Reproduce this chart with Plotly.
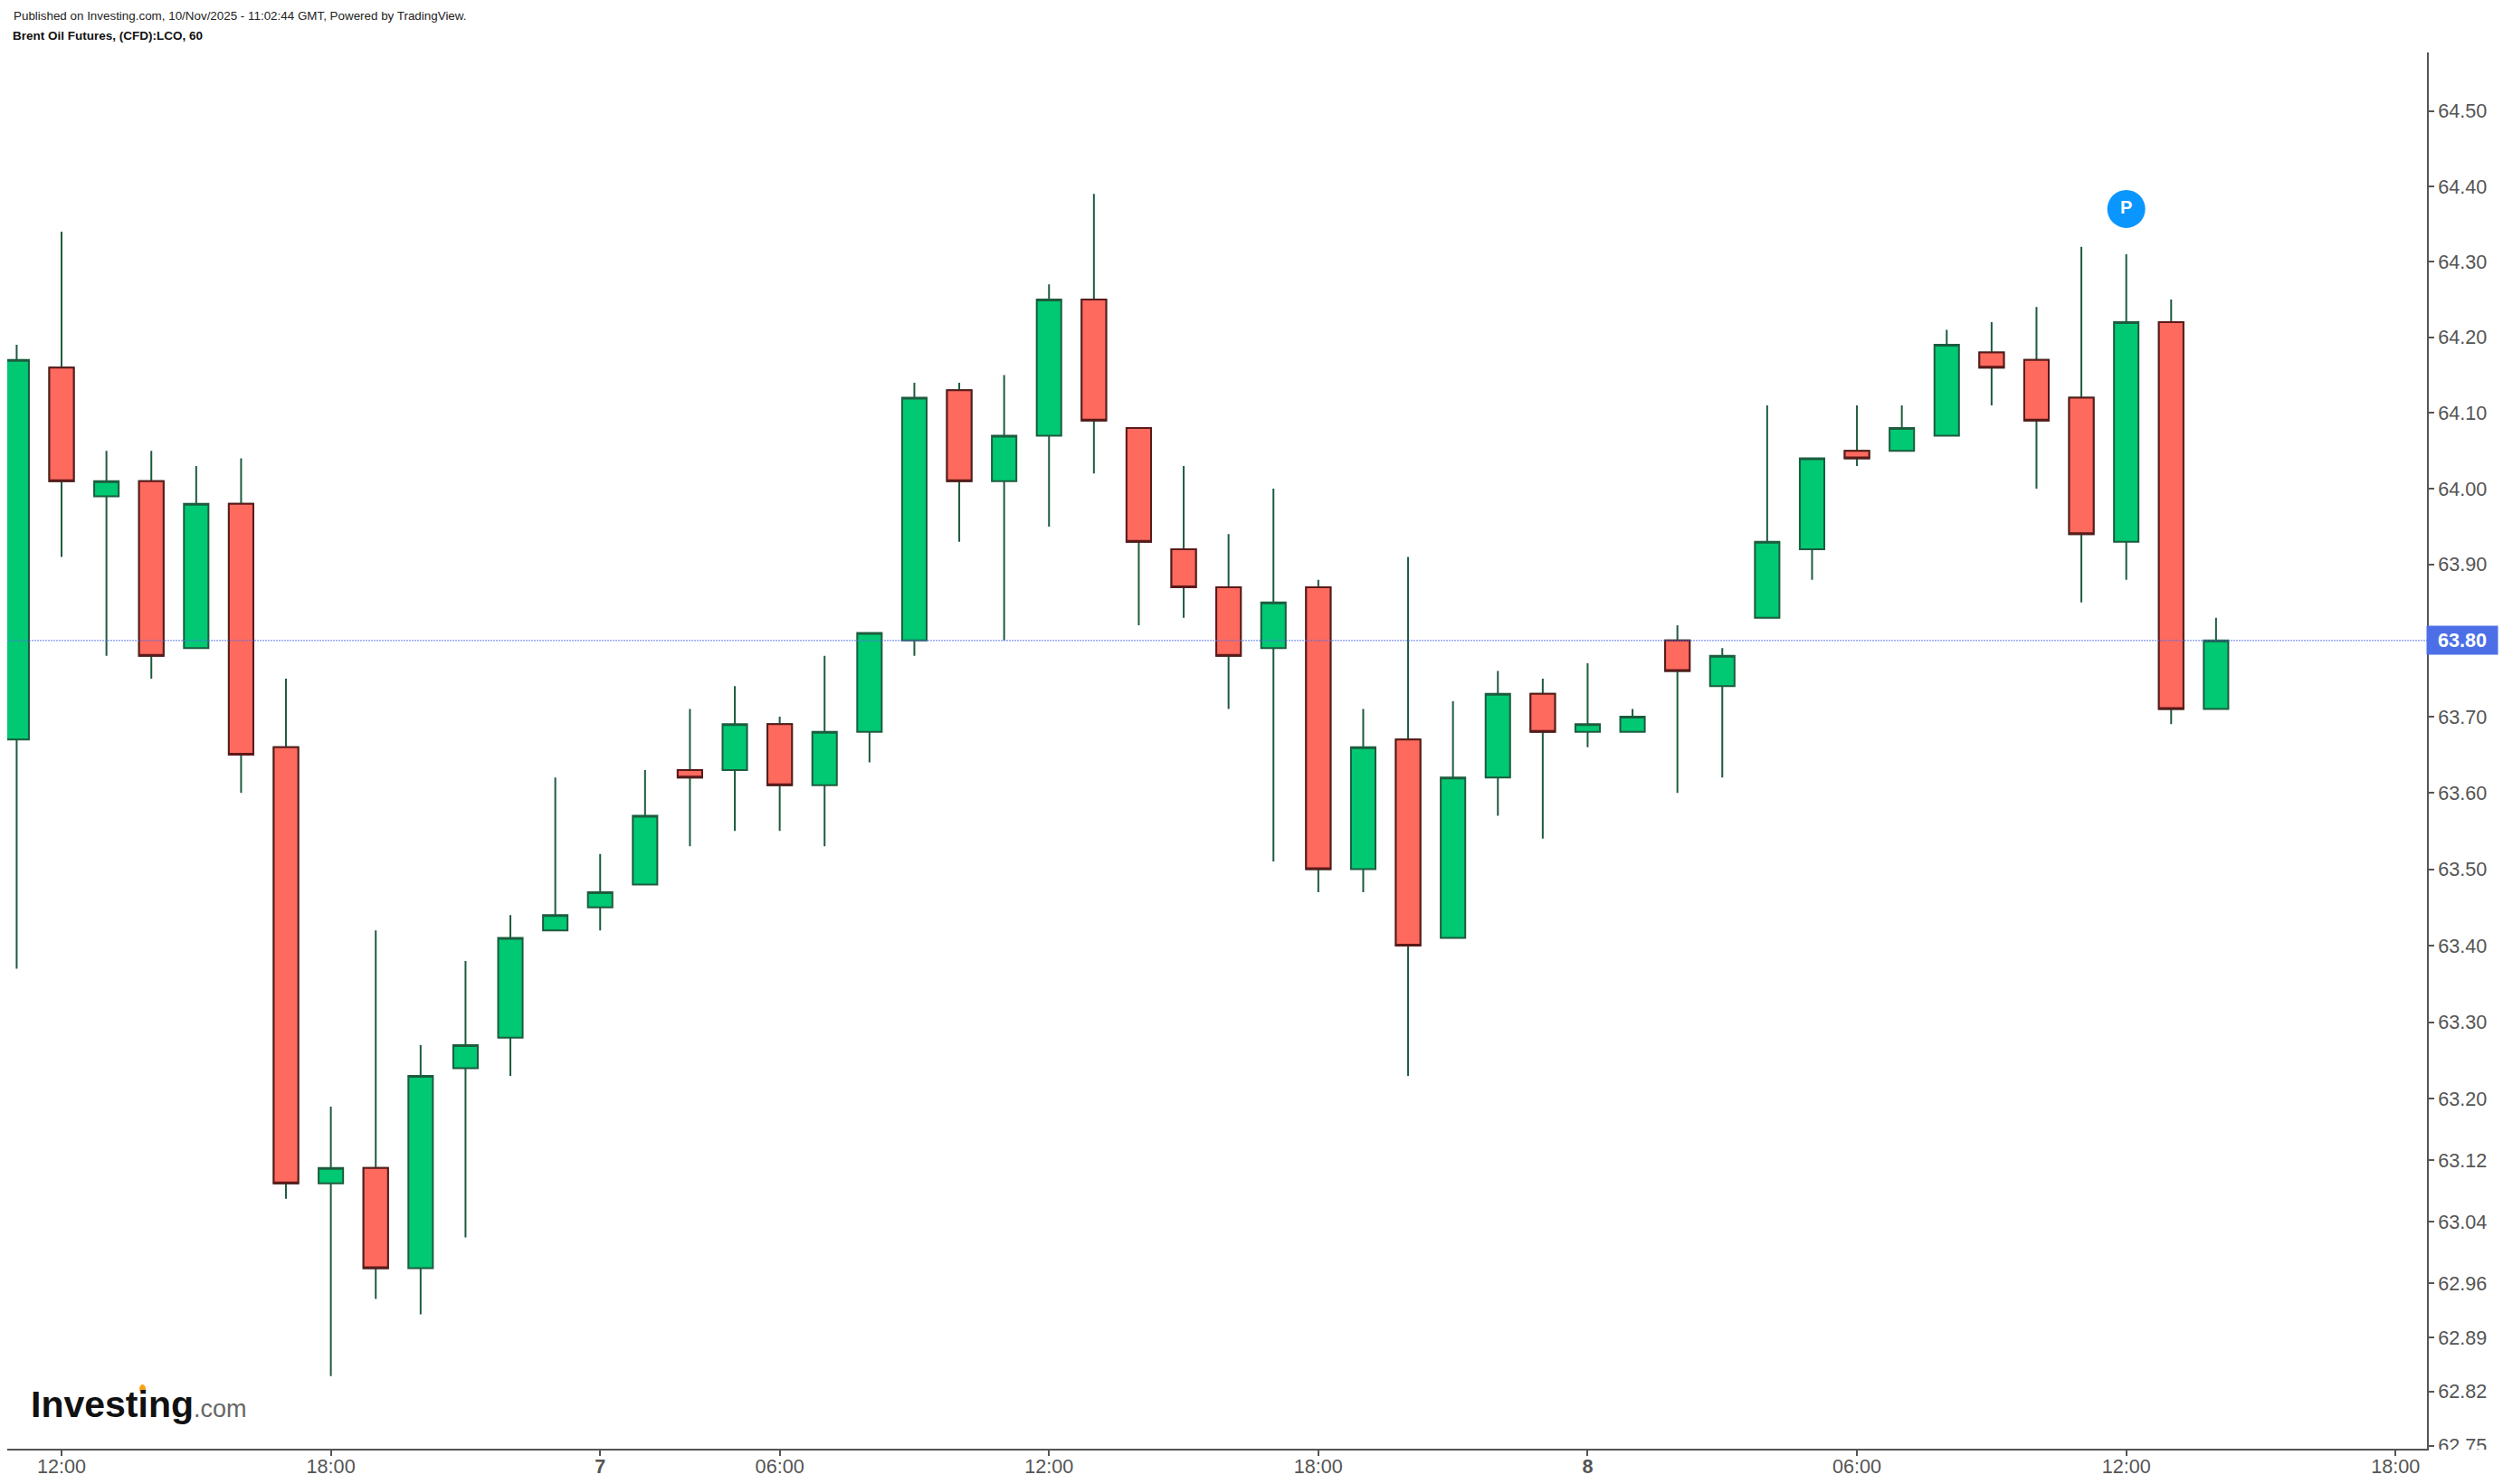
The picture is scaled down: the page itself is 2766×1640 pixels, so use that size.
import math
import plotly.graph_objects as go

bar_index = list(range(50))
opens = [63.67,64.16,63.99,64.01,63.79,63.98,63.66,63.09,63.11,62.98,63.24,63.28,63.42,63.45,63.48,63.63,63.63,63.69,63.61,63.68,
         63.80,64.13,64.01,64.07,64.25,64.08,63.92,63.87,63.79,63.87,63.50,63.67,63.41,63.62,63.73,63.68,63.68,63.80,63.74,63.83,
         63.92,64.05,64.05,64.07,64.18,64.17,64.12,63.93,64.22,63.71]
highs = [64.19,64.34,64.05,64.05,64.03,64.04,63.75,63.19,63.42,63.27,63.38,63.44,63.62,63.52,63.63,63.71,63.74,63.70,63.78,63.81,
         64.14,64.14,64.15,64.27,64.39,64.08,64.03,63.94,64.00,63.88,63.71,63.91,63.72,63.76,63.75,63.77,63.71,63.82,63.79,64.11,
         64.04,64.11,64.11,64.21,64.22,64.24,64.32,64.31,64.25,63.83]
lows = [63.37,63.91,63.78,63.75,63.79,63.60,63.07,62.84,62.94,62.92,63.02,63.23,63.42,63.42,63.48,63.53,63.55,63.55,63.53,63.64,
        63.78,63.93,63.80,63.95,64.02,63.82,63.83,63.71,63.51,63.47,63.47,63.23,63.41,63.57,63.54,63.66,63.68,63.60,63.62,63.83,
        63.88,64.03,64.05,64.07,64.11,64.00,63.85,63.88,63.69,63.71]
closes = [64.17,64.01,64.01,63.78,63.98,63.65,63.09,63.11,62.98,63.23,63.27,63.41,63.44,63.47,63.57,63.62,63.69,63.61,63.68,63.81,
          64.12,64.01,64.07,64.25,64.09,63.93,63.87,63.78,63.85,63.50,63.66,63.40,63.62,63.73,63.68,63.69,63.70,63.76,63.78,63.93,
          64.04,64.04,64.08,64.19,64.16,64.09,63.94,64.22,63.71,63.80]

price_ticks = [64.50,64.40,64.30,64.20,64.10,64.00,63.90,63.80,63.70,63.60,63.50,63.40,63.30,63.20,63.12,63.04,62.96,62.89,62.82,62.75]
time_tick_index = [1,7,13,17,23,29,35,41,47,53]
time_tick_labels = ["12:00","18:00","<b>7</b>","06:00","12:00","18:00","<b>8</b>","06:00","12:00","18:00"]
last_price = 63.80
marker_bar = 47
marker_price = 64.37

W, H = 2766, 1640
L, R, T, B = 8, 2682, 58, 1601
def px(x): return (x - L) / (R - L)
def py(y): return (B - y) / (B - T)

GREEN, RED = "#00C873", "#FF6A5E"
DGREEN, DRED = "#1D5C3E", "#5A1A1A"
AXIS = "#555555"
FONT = "Liberation Sans, Arial, sans-serif"
X0, X1 = -0.21, 53.70

fig = go.Figure()
fig.add_trace(go.Candlestick(
    x=bar_index, open=opens, high=highs, low=lows, close=closes, whiskerwidth=0,
    increasing=dict(fillcolor=GREEN, line=dict(color=DGREEN, width=2)),
    decreasing=dict(fillcolor=RED, line=dict(color=DGREEN, width=2)),
    hoverinfo="skip", showlegend=False))

red = [i for i in bar_index if closes[i] < opens[i]]
fig.add_trace(go.Candlestick(
    x=[bar_index[i] for i in red], open=[opens[i] for i in red], close=[closes[i] for i in red],
    high=[opens[i] for i in red], low=[closes[i] for i in red], whiskerwidth=0,
    increasing=dict(fillcolor=RED, line=dict(color=DRED, width=2)),
    decreasing=dict(fillcolor=RED, line=dict(color=DRED, width=2)),
    hoverinfo="skip", showlegend=False))

fig.add_trace(go.Scatter(
    x=[X0, X1], y=[last_price, last_price], mode="lines",
    line=dict(color="rgba(80,110,235,0.6)", width=1.5, dash="2px,1px"),
    hoverinfo="skip", showlegend=False))

fig.add_trace(go.Scatter(
    x=[marker_bar], y=[marker_price], mode="markers+text", text=["<b>P</b>"],
    textposition="middle center", textfont=dict(color="white", size=20, family=FONT),
    marker=dict(color="#0A96FF", size=42, line=dict(width=0)),
    hoverinfo="skip", showlegend=False))

fig.update_layout(
    width=W, height=H, autosize=False,
    margin=dict(l=L, r=W - R, t=T, b=H - B, pad=0),
    paper_bgcolor="white", plot_bgcolor="white",
    boxmode="overlay", boxgap=0.22,
    showlegend=False,
    font=dict(family=FONT, color=AXIS),
    xaxis=dict(
        type="linear", range=[X0, X1], rangeslider=dict(visible=False), automargin=False,
        tickmode="array", tickvals=time_tick_index, ticktext=time_tick_labels,
        showgrid=False, zeroline=False, showline=True, linecolor=AXIS, linewidth=2,
        ticks="outside", ticklen=6, tickwidth=2, tickcolor=AXIS, ticklabelstandoff=-7,
        tickfont=dict(size=21.6, color=AXIS, family=FONT)),
    yaxis=dict(
        type="log", side="right", range=[math.log10(62.746), math.log10(64.578)], automargin=False,
        tickmode="array", tickvals=price_ticks, ticktext=[f"{p:.2f}" for p in price_ticks],
        showgrid=False, zeroline=False, showline=True, linecolor=AXIS, linewidth=2,
        ticks="outside", ticklen=6, tickwidth=2, tickcolor=AXIS,
        tickfont=dict(size=21.6, color=AXIS, family=FONT)),
    shapes=[
        dict(type="rect", xref="paper", yref="paper", layer="above",
             x0=px(R + 2), x1=px(W), y0=py(H), y1=py(B + 1), fillcolor="white", line=dict(width=0)),
        dict(type="circle", xref="paper", yref="paper", layer="above",
             x0=px(154), x1=px(161), y0=py(1540), y1=py(1530), fillcolor="#F7A21B", line=dict(width=0)),
    ],
    annotations=[
        dict(xref="paper", yref="paper", x=px(13), y=py(18), xanchor="left", yanchor="middle", showarrow=False,
             text="Published on Investing.com, 10/Nov/2025 - 11:02:44 GMT, Powered by TradingView.",
             font=dict(size=13.4, color="#222222", family=FONT)),
        dict(xref="paper", yref="paper", x=px(12), y=py(40), xanchor="left", yanchor="middle", showarrow=False,
             text="<b>Brent Oil Futures, (CFD):LCO, 60</b>",
             font=dict(size=13.5, color="#111111", family=FONT)),
        dict(xref="paper", yref="paper", x=px(32), y=py(1552), xanchor="left", yanchor="middle", showarrow=False,
             text="<b>Investing</b><span style='font-size:27px;color:#666666'>.com</span>",
             font=dict(size=41, color="#111111", family=FONT)),
        dict(xref="paper", yref="y", x=px(R - 1), y=math.log10(last_price), xanchor="left", yanchor="middle",
             showarrow=False, text="<b>63.80</b>", width=78, height=31, align="center", borderpad=0,
             bgcolor="#4C6FE8", font=dict(size=21.6, color="white", family=FONT)),
    ],
)

fig.write_html("out.html", config=dict(displayModeBar=False),
               post_script="document.body.style.margin='0';document.documentElement.style.overflow='hidden';")
